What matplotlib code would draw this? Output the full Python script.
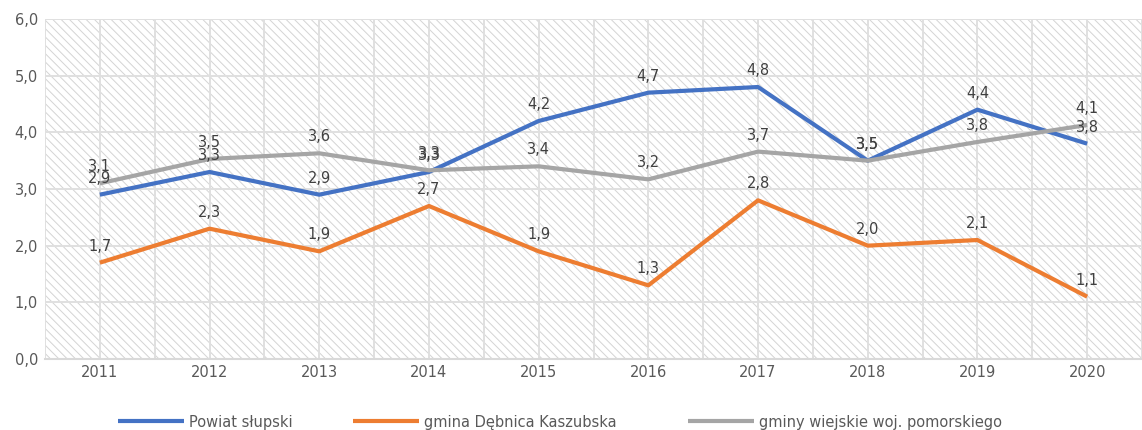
import numpy as np
import matplotlib.pyplot as plt
from matplotlib.patches import Rectangle

# Dane
lata = ["2011", "2012", "2013", "2014", "2015", "2016", "2017", "2018", "2019", "2020"]
powiat = [2.9, 3.3, 2.9, 3.3, 4.2, 4.7, 4.8, 3.5, 4.4, 3.8]
debnica = [1.7, 2.3, 1.9, 2.7, 1.9, 1.3, 2.8, 2.0, 2.1, 1.1]
gminy = [3.10, 3.53, 3.63, 3.33, 3.40, 3.17, 3.66, 3.50, 3.83, 4.13]

serie = [
    ("Powiat słupski", powiat, "#4472C4"),
    ("gmina Dębnica Kaszubska", debnica, "#ED7D31"),
    ("gminy wiejskie woj. pomorskiego", gminy, "#A5A5A5"),
]

plt.rcParams['font.family'] = ['DejaVu Sans']
plt.rcParams['hatch.color'] = '#d4d4d4'
plt.rcParams['hatch.linewidth'] = 0.7

fig = plt.figure(figsize=(11.42, 4.30), dpi=100)
ax = fig.add_axes([45 / 1142, 71 / 430, 1 - 45 / 1142, 340 / 430])

x = np.arange(len(lata))

# tlo w paski
ax.add_patch(Rectangle((0, 0), 1, 1, transform=ax.transAxes, facecolor='white',
                       edgecolor='#d4d4d4', hatch='\\\\\\\\', linewidth=0, zorder=0))

linie = []
for nazwa, wart, kolor in serie:
    ln, = ax.plot(x, wart, color=kolor, linewidth=3, label=nazwa, zorder=3,
                  solid_capstyle='butt', solid_joinstyle='round')
    linie.append(ln)
    for xi, v in zip(x, wart):
        ax.annotate(f"{v:.1f}".replace('.', ','), (xi, v), xytext=(0, 6.5),
                    textcoords='offset points', ha='center', va='bottom',
                    fontsize=10.5, color='#404040', zorder=4)

ax.set_xlim(-0.5, 9.38)
ax.set_ylim(0, 6)
ax.set_xticks(x)
ax.set_xticklabels(lata)
ax.set_xticks(np.arange(-0.5, 10, 1), minor=True)
ax.set_yticks(np.arange(0, 7, 1))
ax.set_yticklabels([f"{v:.1f}".replace('.', ',') for v in np.arange(0, 7, 1)])

ax.grid(True, which='major', color='#e0e0e0', linewidth=1.4, zorder=1)
ax.grid(True, which='minor', axis='x', color='#e0e0e0', linewidth=1.4, zorder=1)
ax.set_axisbelow(True)
ax.tick_params(which='both', length=0, labelsize=10.5, colors='#595959', pad=4)
ax.tick_params(axis='y', pad=5)

for s in ['top', 'right', 'left']:
    ax.spines[s].set_visible(False)
ax.spines['bottom'].set_color('#d9d9d9')
ax.spines['bottom'].set_linewidth(1.5)

# legenda - trzy osobne wpisy
pozycje = [118, 353, 688]
for ln, px in zip(linie, pozycje):
    leg = fig.legend([ln], [ln.get_label()], loc='center left',
                     bbox_to_anchor=(px / 1142, 8 / 430), frameon=False,
                     fontsize=10.5, handlelength=4.5, handletextpad=0.4,
                     borderaxespad=0, borderpad=0)
    for t in leg.get_texts():
        t.set_color('#595959')

fig.savefig("out.png", dpi=100)
